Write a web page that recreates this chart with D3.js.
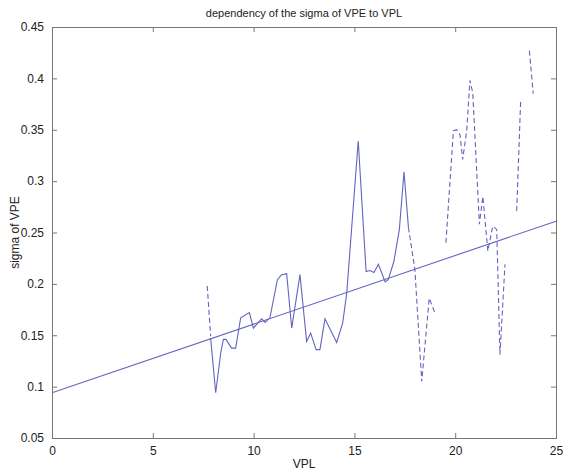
<!DOCTYPE html>
<html>
<head>
  <meta charset="utf-8">
  <title>sigma of VPE vs VPL</title>
  <style type="text/css">
    body{
      margin:0;
      background:#fff;
    }
    text{
      font-family:"Liberation Sans", Arial, sans-serif;
      fill:#222;
    }
  </style>
</head>
<body>
<div id="chart"></div>
<script src="https://d3js.org/d3.v7.min.js"></script>
<script type="text/javascript">
  // solid part of the measured curve
  var solidVPL = [7.87, 8.12, 8.37, 8.50, 8.63, 8.91, 9.11, 9.36, 9.79, 9.99, 10.40, 10.57, 10.81,
                  11.18, 11.39, 11.64, 11.89, 12.30, 12.63, 12.83, 13.10, 13.29, 13.54, 14.12, 14.42,
                  14.62, 15.19, 15.58, 15.77, 15.97, 16.19, 16.35, 16.52, 16.68, 16.96, 17.23, 17.46, 17.68];
  var solidSigma = [0.147, 0.094, 0.133, 0.146, 0.146, 0.1375, 0.1375, 0.167, 0.172, 0.157, 0.166, 0.1625, 0.167,
                    0.204, 0.209, 0.210, 0.157, 0.209, 0.144, 0.152, 0.136, 0.136, 0.166, 0.143, 0.162,
                    0.191, 0.339, 0.212, 0.213, 0.211, 0.219, 0.211, 0.202, 0.204, 0.222, 0.253, 0.309, 0.255];

  // dashed pieces of the curve
  var dashA_VPL = [7.70, 7.87];
  var dashA_Sigma = [0.198, 0.149];
  var dashB_VPL = [17.68, 18.0, 18.34, 18.71, 18.99];
  var dashB_Sigma = [0.255, 0.214, 0.105, 0.186, 0.172];
  var dashC_VPL = [19.54, 19.91, 20.07, 20.24, 20.37, 20.57, 20.73, 20.87, 21.20, 21.37, 21.62, 21.86, 22.06, 22.22, 22.47];
  var dashC_Sigma = [0.240, 0.349, 0.350, 0.345, 0.321, 0.349, 0.398, 0.386, 0.258, 0.285, 0.232, 0.256, 0.253, 0.131, 0.219];
  var dashD_VPL = [23.05, 23.25];
  var dashD_Sigma = [0.271, 0.380];
  var dashE_VPL = [23.68, 23.87];
  var dashE_Sigma = [0.427, 0.385];

  // linear fit
  var fitVPL = [0, 25];
  var fitSigma = [0.094, 0.261];

  var xTicks = [0, 5, 10, 15, 20, 25];
  var yTicks = [0.05, 0.1, 0.15, 0.2, 0.25, 0.3, 0.35, 0.4, 0.45];

  var W = 581, H = 471;
  var pl = 52, pr = 556, pt = 27, pb = 438;
  var lineColor = "#6464bf";

  var svg = d3.select("#chart").append("svg")
      .attr("width", W)
      .attr("height", H);

  var x = d3.scaleLinear().domain([0, 25]).range([pl, pr]);
  var y = d3.scaleLinear().domain([0.05, 0.45]).range([pb, pt]);

  function pts(xs, ys){
    return xs.map(function(d, i){ return [d, ys[i]]; });
  }

  var line = d3.line()
      .x(function(d){ return x(d[0]); })
      .y(function(d){ return y(d[1]); });

  // data
  svg.append("path")
     .attr("d", line(pts(solidVPL, solidSigma)))
     .attr("fill", "none")
     .attr("stroke", lineColor)
     .attr("stroke-width", 1.1);

  var dashed = [pts(dashA_VPL, dashA_Sigma), pts(dashB_VPL, dashB_Sigma), pts(dashC_VPL, dashC_Sigma),
                pts(dashD_VPL, dashD_Sigma), pts(dashE_VPL, dashE_Sigma)];
  svg.selectAll(".dash")
     .data(dashed)
     .enter().append("path")
       .attr("class", "dash")
       .attr("d", line)
       .attr("fill", "none")
       .attr("stroke", lineColor)
       .attr("stroke-width", 1.1)
       .attr("stroke-dasharray", "5,3");

  svg.append("path")
     .attr("d", line(pts(fitVPL, fitSigma)))
     .attr("fill", "none")
     .attr("stroke", lineColor)
     .attr("stroke-width", 1.1);

  // axes, matlab style: ticks pointing inwards on all four sides
  var axisColor = "#777";
  var xAxis = d3.axisBottom(x).tickValues(xTicks).tickSize(-5).tickPadding(8).tickFormat(d3.format("d"));
  var gx = svg.append("g").attr("transform", "translate(0," + pb + ")").call(xAxis);
  var xTop = d3.axisTop(x).tickValues(xTicks).tickSize(-5).tickFormat("");
  var gxt = svg.append("g").attr("transform", "translate(0," + pt + ")").call(xTop);

  var yAxis = d3.axisLeft(y).tickValues(yTicks).tickSize(-5).tickPadding(8).tickFormat(function(d){ return String(+d.toFixed(2)); });
  var gy = svg.append("g").attr("transform", "translate(" + pl + ",0)").call(yAxis);
  var yRight = d3.axisRight(y).tickValues(yTicks).tickSize(-5).tickFormat("");
  var gyr = svg.append("g").attr("transform", "translate(" + pr + ",0)").call(yRight);

  [gx, gxt, gy, gyr].forEach(function(g){
    g.select(".domain").attr("stroke", axisColor);
    g.selectAll(".tick line").attr("stroke", axisColor);
    g.selectAll("text")
     .style("font-family", "Liberation Sans, Arial, sans-serif")
     .style("font-size", "12px")
     .attr("fill", "#222");
  });

  svg.append("text")
     .attr("x", (pl + pr) / 2)
     .attr("y", 17)
     .style("text-anchor", "middle")
     .style("font-size", "11px")
     .text("dependency of the sigma of VPE to VPL");

  svg.append("text")
     .attr("x", (pl + pr) / 2)
     .attr("y", 468)
     .style("text-anchor", "middle")
     .style("font-size", "12px")
     .text("VPL");

  svg.append("text")
     .attr("transform", "translate(19," + ((pt + pb) / 2) + ") rotate(-90)")
     .style("text-anchor", "middle")
     .style("font-size", "12px")
     .text("sigma of VPE");
</script>
</body>
</html>
